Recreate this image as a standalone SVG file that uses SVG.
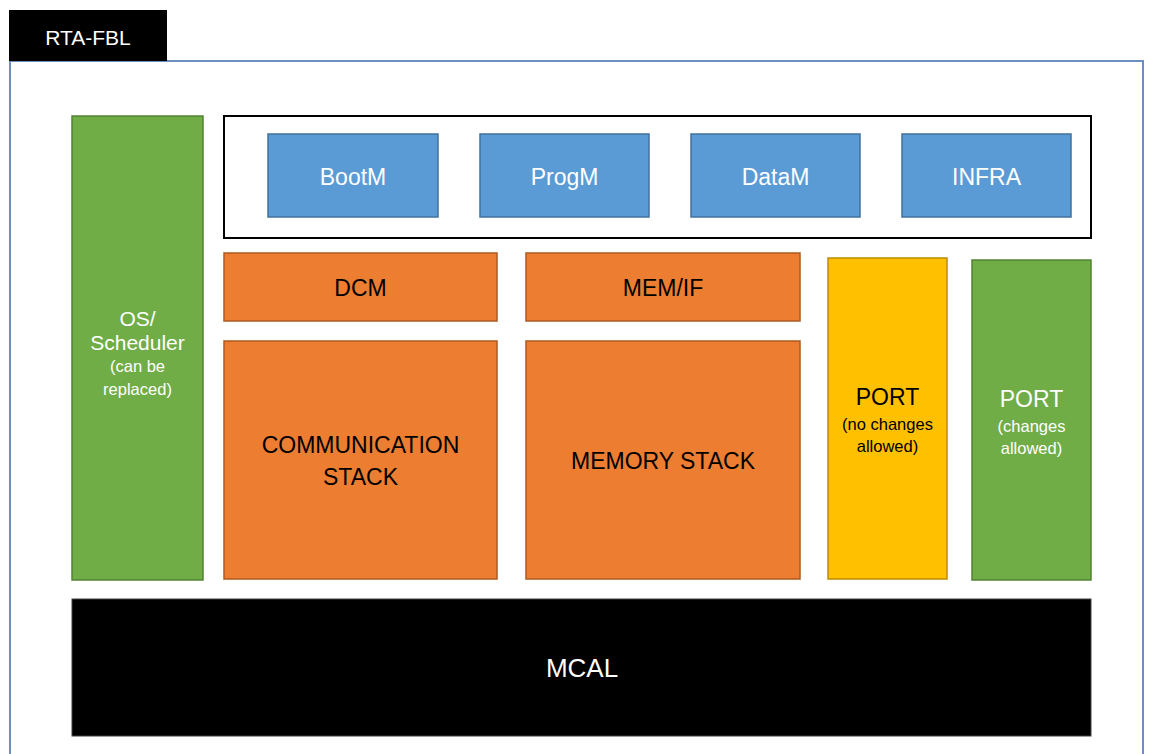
<svg xmlns="http://www.w3.org/2000/svg" width="1149" height="754" viewBox="0 0 1149 754">
<style>
text{font-family:"Liberation Sans","Open Sans",Arial,sans-serif;text-anchor:middle;dominant-baseline:central}
.g{fill:#70AD47;stroke:#548235;stroke-width:1.5}
.o{fill:#ED7D31;stroke:#AE5A21;stroke-width:1.5}
.b{fill:#5B9BD5;stroke:#41719C;stroke-width:1.5}
.y{fill:#FFC000;stroke:#BC8C00;stroke-width:1.5}
.w{fill:#fff}
.k{fill:#000}
.l{font-size:23px}
.s{font-size:16.5px}
</style>
<rect width="1149" height="754" fill="#fff"/>
<g id="frame">
<rect x="10" y="61" width="1133" height="720" fill="#fff" stroke="#6B8FBF" stroke-width="2"/>
<rect x="9" y="10" width="158" height="51" fill="#000"/>
<text x="88" y="37" class="w" font-size="21">RTA-FBL</text>
</g>
<g id="os">
<rect class="g" x="72" y="116" width="131" height="464"/>
<text x="137.5" y="318" class="w" font-size="21">OS/</text>
<text x="137.5" y="342" class="w" font-size="21">Scheduler</text>
<text x="137.5" y="366" class="w s">(can be</text>
<text x="137.5" y="389" class="w s">replaced)</text>
</g>
<g id="top">
<rect x="224" y="116" width="867" height="122" fill="#fff" stroke="#000" stroke-width="2"/>
</g>
<g id="bootm"><rect class="b" x="268" y="134" width="170" height="83"/><text x="353" y="177" class="w l">BootM</text></g>
<g id="progm"><rect class="b" x="480" y="134" width="169" height="83"/><text x="564.5" y="177" class="w l">ProgM</text></g>
<g id="datam"><rect class="b" x="691" y="134" width="169" height="83"/><text x="775.5" y="177" class="w l">DataM</text></g>
<g id="infra"><rect class="b" x="902" y="134" width="169" height="83"/><text x="986.5" y="177" class="w l">INFRA</text></g>
<g id="dcm"><rect class="o" x="224" y="253" width="273" height="68"/><text x="360.5" y="288" class="k l">DCM</text></g>
<g id="memif"><rect class="o" x="526" y="253" width="274" height="68"/><text x="663" y="288" class="k l">MEM/IF</text></g>
<g id="comm"><rect class="o" x="224" y="341" width="273" height="238"/><text x="360.5" y="445" class="k l">COMMUNICATION</text><text x="360.5" y="477" class="k l">STACK</text></g>
<g id="mem"><rect class="o" x="526" y="341" width="274" height="238"/><text x="663" y="461" class="k l">MEMORY STACK</text></g>
<g id="port1"><rect class="y" x="828" y="258" width="119" height="321"/><text x="887.5" y="397" class="k l">PORT</text><text x="887.5" y="424" class="k s">(no changes</text><text x="887.5" y="446" class="k s">allowed)</text></g>
<g id="port2"><rect class="g" x="972" y="260" width="119" height="320"/><text x="1031.5" y="399" class="w l">PORT</text><text x="1031.5" y="426" class="w s">(changes</text><text x="1031.5" y="448" class="w s">allowed)</text></g>
<g id="mcal"><rect x="72" y="599" width="1019" height="137" fill="#000" stroke="#404040" stroke-width="1"/><text x="582" y="668" class="w" font-size="26">MCAL</text></g>
<g id="connectors"></g>
</svg>
